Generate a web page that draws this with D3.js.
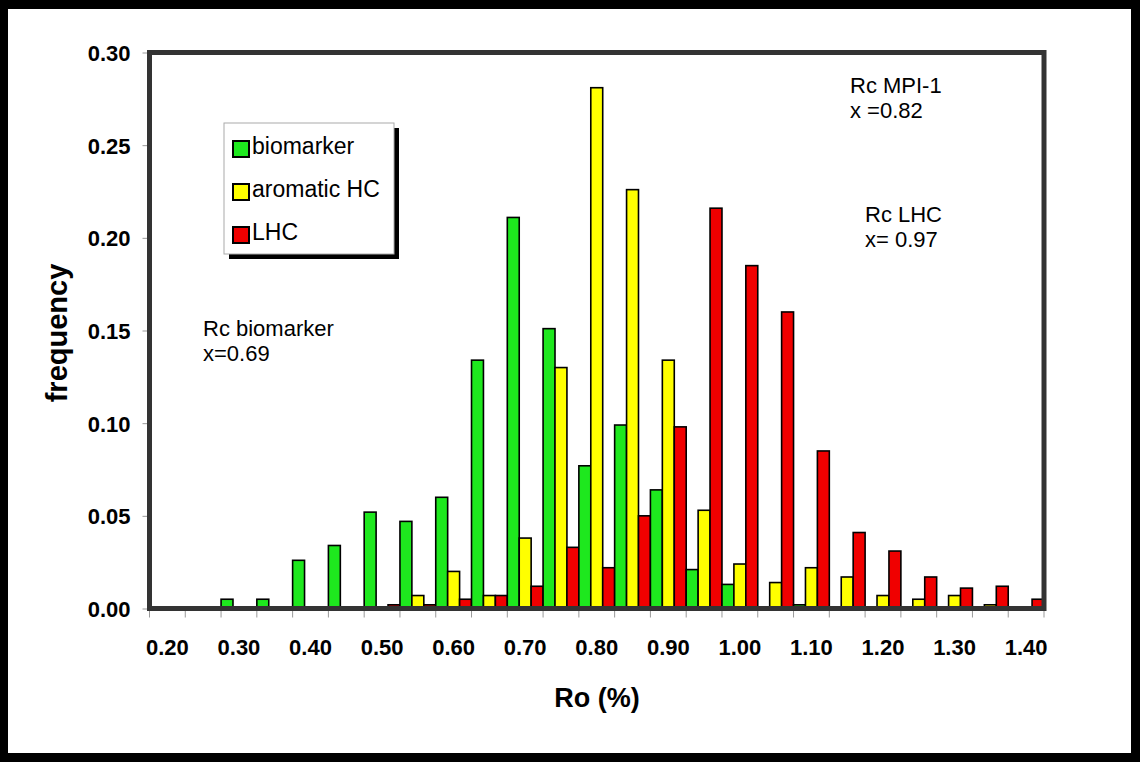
<!DOCTYPE html>
<html>
<head>
<meta charset="utf-8">
<script src="https://cdn.jsdelivr.net/npm/d3@7"></script>
<style>
  body { margin: 0; background: #000; }
  text { font-family: "Liberation Sans", Arial, sans-serif; }
</style>
</head>
<body>
<div id="chart"></div>
<script>
// Ro class labels (0.05 steps)
const categories = ["0.20", "0.25", "0.30", "0.35", "0.40", "0.45", "0.50", "0.55", "0.60", "0.65",
  "0.70", "0.75", "0.80", "0.85", "0.90", "0.95", "1.00", "1.05", "1.10", "1.15",
  "1.20", "1.25", "1.30", "1.35", "1.40"];
// only every other class gets a label
const xTickLabels = ["0.20", "0.30", "0.40", "0.50", "0.60", "0.70", "0.80", "0.90", "1.00", "1.10", "1.20", "1.30", "1.40"];
const yTicks = [0, 0.05, 0.10, 0.15, 0.20, 0.25, 0.30];

const seriesNames = ["biomarker", "aromatic HC", "LHC"];
const biomarker = [0, 0, 0.005, 0.005, 0.026, 0.034, 0.052, 0.047, 0.060, 0.134,
  0.211, 0.151, 0.077, 0.099, 0.064, 0.021, 0.013, 0, 0.002, 0,
  0, 0, 0, 0, 0];
const aromaticHC = [0, 0, 0, 0, 0, 0, 0, 0.007, 0.020, 0.007,
  0.038, 0.130, 0.281, 0.226, 0.134, 0.053, 0.024, 0.014, 0.022, 0.017,
  0.007, 0.005, 0.007, 0.002, 0];
const lhc = [0, 0, 0, 0, 0, 0, 0.002, 0.002, 0.005, 0.007,
  0.012, 0.033, 0.022, 0.050, 0.098, 0.216, 0.185, 0.160, 0.085, 0.041,
  0.031, 0.017, 0.011, 0.012, 0.005];

const notes = [
  { lines: ["Rc biomarker", "x=0.69"], x: 203, y: 336 },
  { lines: ["Rc MPI-1", "x =0.82"], x: 850, y: 93 },
  { lines: ["Rc LHC", "x= 0.97"], x: 865, y: 222 }
];

const colors = ["#1ee81e", "#ffff00", "#f00000"];

const svgWidth = 1140;
const svgHeight = 762;

const margin = {
  top: 52.5,
  right: 96,
  bottom: 153.5,
  left: 149.5
};

const width = svgWidth - margin.left - margin.right;
const height = svgHeight - margin.top - margin.bottom;

const svg = d3
  .select("#chart")
  .append("svg")
  .attr("width", svgWidth)
  .attr("height", svgHeight);

// black outer frame with white page
svg.append("rect")
  .attr("width", svgWidth)
  .attr("height", svgHeight)
  .attr("fill", "#000");
svg.append("rect")
  .attr("x", 8)
  .attr("y", 9)
  .attr("width", 1123)
  .attr("height", 744)
  .attr("fill", "#fff");

const chartGroup = svg.append("g")
  .attr("transform", `translate(${margin.left}, ${margin.top})`);

// scales
const xBand = d3.scaleBand()
  .domain(categories)
  .range([0, width])
  .padding(0);

const xInner = d3.scaleBand()
  .domain(seriesNames)
  .range([0, xBand.bandwidth()])
  .padding(0);

const yLinearScale = d3.scaleLinear()
  .domain([0, 0.30])
  .range([height, 0]);

// y axis ticks + labels
const leftAxis = d3.axisLeft(yLinearScale)
  .tickValues(yTicks)
  .tickSize(7)
  .tickPadding(12)
  .tickFormat(d => d.toFixed(2));

const yAxis = chartGroup.append("g").call(leftAxis);
yAxis.select(".domain").remove();
yAxis.selectAll("line").attr("stroke", "#999").attr("stroke-width", 1);
yAxis.selectAll("text")
  .style("font-size", "22px")
  .style("font-weight", "bold")
  .attr("fill", "#000")
  .attr("dy", "0.36em");

// x axis: ticks on class boundaries
const xAxis = chartGroup.append("g")
  .attr("transform", `translate(0, ${height})`);

xAxis.selectAll("line")
  .data(categories.concat(["end"]))
  .enter()
  .append("line")
  .attr("x1", (d, i) => i * xBand.step())
  .attr("x2", (d, i) => i * xBand.step())
  .attr("y1", 0)
  .attr("y2", 9)
  .attr("stroke", "#999")
  .attr("stroke-width", 1);

xAxis.selectAll("text")
  .data(xTickLabels)
  .enter()
  .append("text")
  .attr("x", d => xBand(d) + xBand.bandwidth() / 2)
  .attr("y", 46)
  .attr("text-anchor", "middle")
  .style("font-size", "22px")
  .style("font-weight", "bold")
  .text(d => d);

// bars
const tableData = categories.map((c, i) => ({
  cat: c,
  values: [biomarker[i], aromaticHC[i], lhc[i]]
}));

const catGroups = chartGroup.selectAll(".cat")
  .data(tableData)
  .enter()
  .append("g")
  .attr("class", "cat")
  .attr("transform", d => `translate(${xBand(d.cat)}, 0)`);

catGroups.selectAll("rect")
  .data(d => d.values.map((v, j) => ({ name: seriesNames[j], value: v, j: j })))
  .enter()
  .filter(d => d.value > 0)
  .append("rect")
  .attr("x", d => xInner(d.name))
  .attr("y", d => yLinearScale(d.value))
  .attr("width", xInner.bandwidth())
  .attr("height", d => yLinearScale(0) - yLinearScale(d.value))
  .attr("fill", d => colors[d.j])
  .attr("stroke", "#000")
  .attr("stroke-width", 1.6);

// plot frame
chartGroup.append("rect")
  .attr("width", width)
  .attr("height", height)
  .attr("fill", "none")
  .attr("stroke", "#333")
  .attr("stroke-width", 5);

// annotations
notes.forEach(n => {
  const t = chartGroup.append("text")
    .attr("x", n.x - margin.left)
    .attr("y", n.y - margin.top)
    .style("font-size", "22px");
  n.lines.forEach((l, i) => {
    t.append("tspan")
      .attr("x", n.x - margin.left)
      .attr("dy", i === 0 ? 0 : 25)
      .text(l);
  });
});

// legend with drop shadow
const legend = svg.append("g")
  .attr("transform", "translate(224, 123)");

legend.append("rect")
  .attr("x", 5)
  .attr("y", 5)
  .attr("width", 170)
  .attr("height", 131)
  .attr("fill", "#000");
legend.append("rect")
  .attr("width", 170)
  .attr("height", 131)
  .attr("fill", "#fff")
  .attr("stroke", "#aaa")
  .attr("stroke-width", 1);

const legendItems = legend.selectAll(".item")
  .data(seriesNames)
  .enter()
  .append("g")
  .attr("class", "item")
  .attr("transform", (d, i) => `translate(9, ${18 + i * 43})`);

legendItems.append("rect")
  .attr("width", 16)
  .attr("height", 16)
  .attr("fill", (d, i) => colors[i])
  .attr("stroke", "#000")
  .attr("stroke-width", 2);

legendItems.append("text")
  .attr("x", 19)
  .attr("y", 13)
  .style("font-size", "23px")
  .text(d => d);

// axis titles
svg.append("text")
  .attr("transform", "rotate(-90)")
  .attr("x", -333)
  .attr("y", 57)
  .attr("dy", "0.35em")
  .attr("text-anchor", "middle")
  .style("font-size", "29px")
  .style("font-weight", "bold")
  .text("frequency");

svg.append("text")
  .attr("x", 597)
  .attr("y", 707)
  .attr("text-anchor", "middle")
  .style("font-size", "27px")
  .style("font-weight", "bold")
  .text("Ro (%)");
</script>
</body>
</html>
